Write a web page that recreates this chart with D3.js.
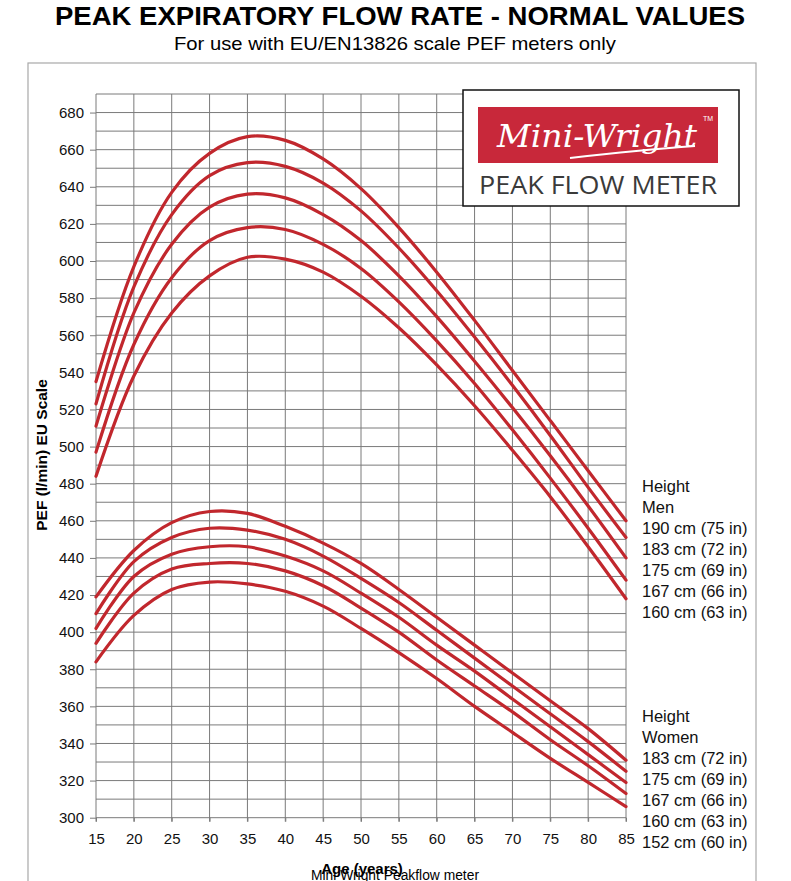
<!DOCTYPE html>
<html>
<head>
<meta charset="utf-8">
<script src="https://cdn.jsdelivr.net/npm/d3@7"></script>
<style>
  html, body { margin: 0; padding: 0; background: #fff; }
  svg { display: block; }
</style>
</head>
<body>
<svg id="chart" width="791" height="881"></svg>
<script>
// ---- DATA ----
const ages = [15, 20, 25, 30, 35, 40, 45, 50, 55, 60, 65, 70, 75, 80, 85];
const xTicks = [15, 20, 25, 30, 35, 40, 45, 50, 55, 60, 65, 70, 75, 80, 85];
const yTicks = [300, 320, 340, 360, 380, 400, 420, 440, 460, 480, 500, 520, 540, 560, 580, 600, 620, 640, 660, 680];

const menLabels = ["190 cm (75 in)", "183 cm (72 in)", "175 cm (69 in)", "167 cm (66 in)", "160 cm (63 in)"];
const men190 = [535, 597, 637, 658, 667, 665, 655, 639, 618, 594, 568, 541, 514, 487, 460];
const men183 = [523, 586, 625, 646, 653, 651, 642, 627, 607, 584, 559, 533, 506, 478, 451];
const men175 = [511, 572, 609, 629, 636, 634, 625, 611, 592, 570, 546, 521, 495, 468, 440];
const men167 = [497, 555, 591, 611, 618, 617, 609, 596, 578, 557, 534, 509, 483, 456, 428];
const men160 = [484, 538, 572, 592, 602, 601, 594, 581, 564, 544, 522, 498, 473, 446, 418];

const womenLabels = ["183 cm (72 in)", "175 cm (69 in)", "167 cm (66 in)", "160 cm (63 in)", "152 cm (60 in)"];
const women183 = [419, 444, 459, 465, 464, 457, 448, 437, 423, 408, 393, 378, 363, 348, 331];
const women175 = [410, 438, 451, 456, 455, 450, 441, 429, 416, 401, 386, 371, 356, 341, 325];
const women167 = [402, 430, 442, 446, 446, 441, 433, 421, 408, 393, 379, 364, 349, 334, 319];
const women160 = [394, 421, 434, 437, 437, 433, 425, 413, 400, 385, 371, 357, 342, 328, 313];
const women152 = [384, 409, 423, 427, 426, 422, 414, 402, 389, 375, 360, 346, 332, 319, 306];

const menSeries = [men190, men183, men175, men167, men160];
const womenSeries = [women183, women175, women167, women160, women152];

// ---- CHART ----
const svg = d3.select("#chart");
const red = "#c1272d";
const gridColor = "#7a7a7a";
const font = "'Liberation Sans', Arial, Helvetica, sans-serif";

const x = d3.scaleLinear().domain([15, 85]).range([96, 626]);
const y = d3.scaleLinear().domain([300, 690]).range([817.7, 94]);

// outer frame
svg.append("rect").attr("x", 28).attr("y", 63).attr("width", 728).attr("height", 840)
  .attr("fill", "none").attr("stroke", "#a8a8a8").attr("stroke-width", 1.2);

// title
svg.append("text").attr("x", 400).attr("y", 25).attr("text-anchor", "middle")
  .attr("font-family", "'Liberation Sans Narrow', 'Arial Narrow', " + font)
  .attr("font-weight", "bold").attr("font-size", 25)
  .attr("textLength", 690).attr("lengthAdjust", "spacingAndGlyphs")
  .text("PEAK EXPIRATORY FLOW RATE - NORMAL VALUES");
svg.append("text").attr("x", 395).attr("y", 50).attr("text-anchor", "middle")
  .attr("font-family", "'Liberation Sans Narrow', 'Arial Narrow', " + font)
  .attr("font-size", 19)
  .attr("textLength", 442).attr("lengthAdjust", "spacingAndGlyphs")
  .text("For use with EU/EN13826 scale PEF meters only");

// grid
const grid = svg.append("g").attr("stroke", gridColor).attr("stroke-width", 1);
grid.selectAll("line.v").data(xTicks).join("line")
  .attr("x1", d => x(d)).attr("x2", d => x(d))
  .attr("y1", y(690)).attr("y2", y(300) + 4);
grid.selectAll("line.h").data(d3.range(300, 691, 10)).join("line")
  .attr("x1", x(15)).attr("x2", x(85))
  .attr("y1", d => y(d)).attr("y2", d => y(d));

// y axis
const yAxis = svg.append("g").attr("transform", `translate(${x(15)},0)`)
  .call(d3.axisLeft(y).tickValues(yTicks).tickSize(6).tickPadding(6).tickFormat(d3.format("d")));
yAxis.select(".domain").remove();
yAxis.selectAll("line").attr("stroke", gridColor);
yAxis.selectAll("text").attr("font-family", font).attr("font-size", 15).attr("fill", "#111");

// x axis
const xAxis = svg.append("g").attr("transform", `translate(0,${y(300)})`)
  .call(d3.axisBottom(x).tickValues(xTicks).tickSize(4).tickPadding(12).tickFormat(d3.format("d")));
xAxis.select(".domain").remove();
xAxis.selectAll("line").attr("stroke", gridColor);
xAxis.selectAll("text").attr("font-family", font).attr("font-size", 15).attr("fill", "#111");

// axis titles
svg.append("text").attr("transform", "translate(47,455) rotate(-90)")
  .attr("text-anchor", "middle").attr("font-family", font).attr("font-weight", "bold")
  .attr("font-size", 15.5).text("PEF (l/min) EU Scale");
svg.append("text").attr("x", 362).attr("y", 874).attr("text-anchor", "middle")
  .attr("font-family", font).attr("font-weight", "bold").attr("font-size", 15)
  .text("Age (years)");
svg.append("text").attr("x", 311).attr("y", 880)
  .attr("font-family", font).attr("font-size", 14)
  .attr("textLength", 168).attr("lengthAdjust", "spacingAndGlyphs")
  .text("Mini Wright Peakflow meter");

// logo box
const logo = svg.append("g");
logo.append("rect").attr("x", 463).attr("y", 90).attr("width", 276).attr("height", 116)
  .attr("fill", "#fff").attr("stroke", "#111").attr("stroke-width", 1.5);
logo.append("rect").attr("x", 478).attr("y", 107).attr("width", 240).attr("height", 56)
  .attr("fill", "#c8283a");
logo.append("text").attr("x", 497).attr("y", 147)
  .attr("font-family", "'DejaVu Serif', 'Liberation Serif', serif").attr("font-style", "italic")
  .attr("font-size", 32).attr("fill", "#fff")
  .attr("textLength", 200).attr("lengthAdjust", "spacingAndGlyphs")
  .text("Mini-Wright");
logo.append("path").attr("d", "M 570 158 Q 640 150 695 146")
  .attr("fill", "none").attr("stroke", "#fff").attr("stroke-width", 2);
logo.append("text").attr("x", 703).attr("y", 121)
  .attr("font-family", font).attr("font-size", 7).attr("fill", "#fff").text("TM");
logo.append("text").attr("x", 479).attr("y", 194)
  .attr("font-family", "'Open Sans', 'DejaVu Sans', sans-serif").attr("font-size", 25)
  .attr("fill", "#3a3a3a")
  .attr("textLength", 238).attr("lengthAdjust", "spacingAndGlyphs")
  .text("PEAK FLOW METER");

// curves
const line = d3.line().x((d, i) => x(ages[i])).y(d => y(d)).curve(d3.curveCatmullRom.alpha(0.5));
const curves = svg.append("g").attr("fill", "none").attr("stroke", red)
  .attr("stroke-width", 3.2).attr("stroke-linecap", "round");
curves.selectAll("path.men").data(menSeries).join("path").attr("class", "men").attr("d", line);
curves.selectAll("path.women").data(womenSeries).join("path").attr("class", "women").attr("d", line);

// right labels
const labelFont = 16.5;
function labelBlock(lines, y0) {
  svg.append("g").selectAll("text").data(lines).join("text")
    .attr("x", 642).attr("y", (d, i) => y0 + i * 21)
    .attr("font-family", font).attr("font-size", labelFont).attr("fill", "#111")
    .text(d => d);
}
labelBlock(["Height", "Men"].concat(menLabels), 492);
labelBlock(["Height", "Women"].concat(womenLabels), 722);
</script>
</body>
</html>
